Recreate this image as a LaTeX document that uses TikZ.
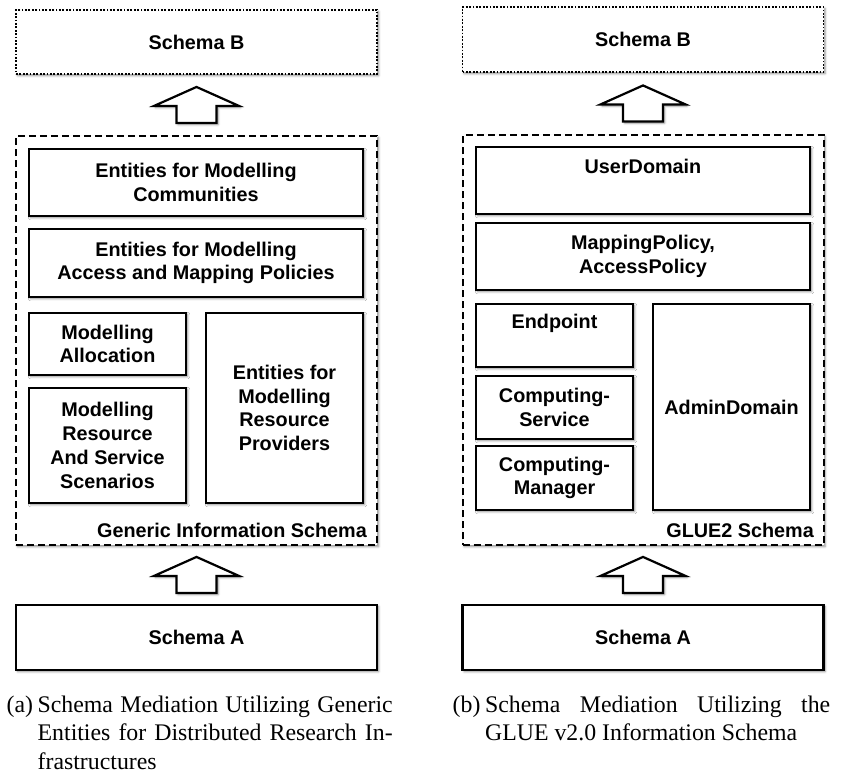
\documentclass[tikz,border=0pt]{standalone}
\usepackage{fontspec}
\setmainfont{Liberation Serif}
\newfontfamily\boxfont{Liberation Sans}
\usetikzlibrary{calc,shadows.blur}
\begin{document}
\begin{tikzpicture}[x=1pt,y=-1pt,
  softshadow/.style={blur shadow={shadow xshift=1.6pt,shadow yshift=-1.6pt,shadow blur radius=2.2pt,shadow opacity=45}},
  boxtext/.style={font=\boxfont\bfseries\fontsize{19.8}{23.8}\selectfont,align=center,text=black},
  entity/.style={rectangle,draw=black,line width=2.3pt,fill=white,inner sep=0pt,softshadow,boxtext},
  targetbox/.style={entity,line width=1.8pt,dash pattern=on 1.8pt off 1.6pt},
  container/.style={rectangle,draw=black,line width=2pt,dash pattern=on 7pt off 4pt,fill=white,inner sep=0pt,softshadow},
  schemalabel/.style={boxtext,anchor=base east,inner sep=0pt},
  mediation/.style={draw=black,line width=2.2pt,fill=white,softshadow},
  subcaption/.style={font=\fontsize{23.8}{28.5}\selectfont,anchor=base west,inner sep=0pt},
  blockarrow/.pic={\path[mediation] (0,-18) -- (42.5,1) -- (20,1) -- (20,18) -- (-20,18) -- (-20,1) -- (-42.5,1) -- cycle;}
]
\useasboundingbox (0,0) rectangle (842,774);

% ---------- (a) generic entities ----------
\node[targetbox,minimum width=361pt,minimum height=64pt] (schemaBa) at (196.5,42) {Schema B};
\node[container,minimum width=361pt,minimum height=409pt] (outerA) at (196.5,340.5) {};
\node[entity,minimum width=334pt,minimum height=67pt] (commA) at (196,182.5) {Entities for Modelling\\Communities};
\node[entity,minimum width=334pt,minimum height=68pt] (accA) at (196,263) {Entities for Modelling\\Access and Mapping Policies};
\node[entity,minimum width=157pt,minimum height=62pt] (allocA) at (107.5,344) {Modelling\\Allocation};
\node[entity,minimum width=157pt,minimum height=115pt] (resA) at (107.5,445.5) {Modelling\\Resource\\And Service\\Scenarios};
\node[entity,minimum width=157pt,minimum height=190pt] (provA) at (284.5,408) {Entities for\\Modelling\\Resource\\Providers};
\node[schemalabel] (labA) at (367,537) {Generic Information Schema};
\node[entity,minimum width=361pt,minimum height=65pt] (schemaAa) at (196.5,637.5) {Schema A};

\pic at ($(schemaBa.south)!0.5!(outerA.north)$) {blockarrow};
\pic at ($(outerA.south)!0.5!(schemaAa.north)$) {blockarrow};

\node[subcaption] (capA) at (6.5,712) {\makebox[31pt][l]{(a)}\parbox[t]{355pt}{\makebox[355pt][s]{Schema Mediation Utilizing Generic}\\\makebox[355pt][s]{Entities for Distributed Research In-}\\frastructures}};

% ---------- (b) GLUE v2.0 ----------
\node[targetbox,minimum width=361pt,minimum height=65pt] (schemaBb) at (643,39.5) {Schema B};
\node[container,minimum width=361pt,minimum height=410pt] (outerB) at (643,340) {};
\node[entity,minimum width=334pt,minimum height=67pt] (userB) at (643,180.5) {UserDomain\\\phantom{Xy}};
\node[entity,minimum width=334pt,minimum height=67pt] (mapB) at (643,256.5) {MappingPolicy,\\AccessPolicy};
\node[entity,minimum width=157pt,minimum height=63pt] (endB) at (554.5,335.5) {Endpoint\\\phantom{Xy}};
\node[entity,minimum width=157pt,minimum height=63pt] (csB) at (554.5,407.5) {Computing-\\Service};
\node[entity,minimum width=157pt,minimum height=64pt] (cmB) at (554.5,478) {Computing-\\Manager};
\node[entity,minimum width=157pt,minimum height=206pt] (adminB) at (731.5,407) {AdminDomain};
\node[schemalabel] (labB) at (814,537) {GLUE2 Schema};
\node[entity,minimum width=361pt,minimum height=65pt] (schemaAb) at (643,637.5) {Schema A};

\pic at ($(schemaBb.south)!0.5!(outerB.north)$) {blockarrow};
\pic at ($(outerB.south)!0.5!(schemaAb.north)$) {blockarrow};

\node[subcaption] (capB) at (452.5,712) {\makebox[32.5pt][l]{(b)}\parbox[t]{345pt}{\makebox[345pt][s]{Schema Mediation Utilizing the}\\GLUE v2.0 Information Schema}};
\end{tikzpicture}
\end{document}
